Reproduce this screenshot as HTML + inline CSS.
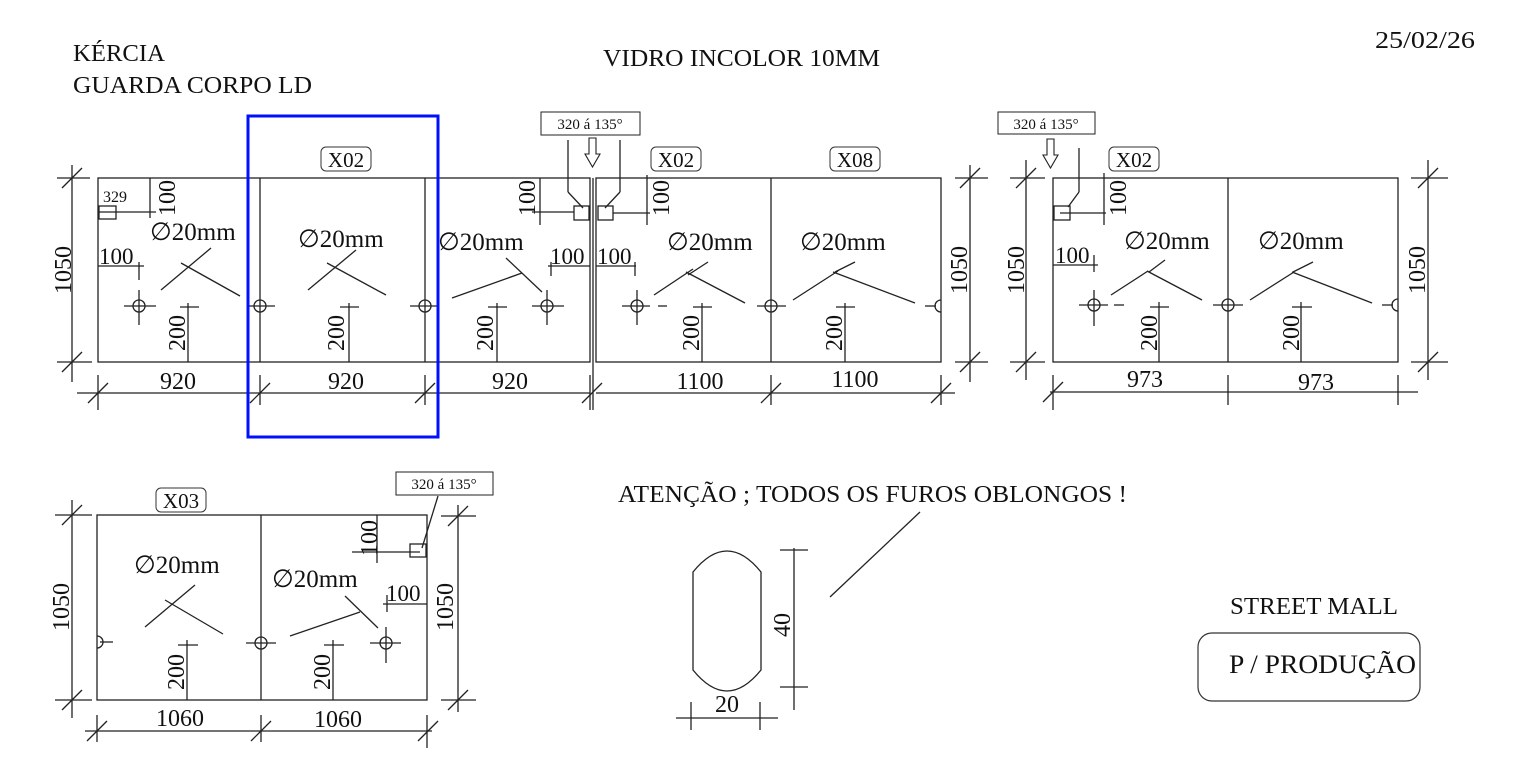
<!DOCTYPE html>
<html><head><meta charset="utf-8"><style>
html,body{margin:0;padding:0;background:#fff;}
svg{display:block;}
text{font-family:"Liberation Serif",serif;fill:#111;}
</style></head><body>
<svg width="1535" height="767" viewBox="0 0 1535 767" xmlns="http://www.w3.org/2000/svg">
<g font-size="24">
<text x="73" y="61" textLength="92" lengthAdjust="spacingAndGlyphs">KÉRCIA</text>
<text x="73" y="93" textLength="239" lengthAdjust="spacingAndGlyphs">GUARDA CORPO LD</text>
<text x="603" y="66" textLength="277" lengthAdjust="spacingAndGlyphs">VIDRO INCOLOR 10MM</text>
<text x="1375" y="48" textLength="100" lengthAdjust="spacingAndGlyphs">25/02/26</text>
<text x="618" y="502" textLength="509" lengthAdjust="spacingAndGlyphs">ATENÇÃO ; TODOS OS FUROS OBLONGOS !</text>
<text x="1230" y="614" textLength="168" lengthAdjust="spacingAndGlyphs">STREET MALL</text>
<text x="1229" y="673" font-size="26" textLength="187" lengthAdjust="spacingAndGlyphs">P / PRODUÇÃO</text>
</g>
<rect x="1198" y="633" width="222" height="68" rx="14" fill="none" stroke="#333" stroke-width="1.2"/>

<g stroke="#222" stroke-width="1.3" fill="none">
<rect x="98" y="178" width="492" height="184"/>
<line x1="260" y1="178" x2="260" y2="362"/><line x1="425" y1="178" x2="425" y2="362"/>
<rect x="596" y="178" width="345" height="184"/>
<line x1="771" y1="178" x2="771" y2="362"/>
<line x1="593" y1="178" x2="593" y2="410"/>
<line x1="72" y1="165" x2="72" y2="382"/>
<line x1="57" y1="178" x2="90" y2="178"/><line x1="57" y1="362" x2="92" y2="362"/>
<line x1="62" y1="188" x2="82" y2="168"/><line x1="62" y1="372" x2="82" y2="352"/>
<line x1="77" y1="393" x2="590" y2="393"/>
<line x1="98" y1="375" x2="98" y2="410"/><line x1="260" y1="375" x2="260" y2="405"/><line x1="425" y1="375" x2="425" y2="405"/>
<line x1="88" y1="403" x2="108" y2="383"/><line x1="250" y1="403" x2="270" y2="383"/><line x1="415" y1="403" x2="435" y2="383"/><line x1="582" y1="403" x2="602" y2="383"/>
<line x1="590" y1="375" x2="590" y2="410"/>
<line x1="596" y1="393" x2="955" y2="393"/>
<line x1="771" y1="375" x2="771" y2="405"/><line x1="941" y1="375" x2="941" y2="405"/>
<line x1="761" y1="403" x2="781" y2="383"/><line x1="931" y1="403" x2="951" y2="383"/>
<line x1="970" y1="165" x2="970" y2="382"/>
<line x1="955" y1="178" x2="988" y2="178"/><line x1="955" y1="362" x2="988" y2="362"/>
<line x1="960" y1="188" x2="980" y2="168"/><line x1="960" y1="372" x2="980" y2="352"/>
<rect x="99" y="206" width="17" height="13"/>
<line x1="99" y1="212" x2="156" y2="212"/><line x1="150" y1="178" x2="150" y2="218"/>
<line x1="98" y1="266" x2="144" y2="266"/>
<line x1="139" y1="262" x2="139" y2="280"/>
<circle cx="139" cy="306" r="6"/><line x1="124" y1="306" x2="156" y2="306"/><line x1="139" y1="290" x2="139" y2="325"/>
<circle cx="260" cy="306" r="6"/><line x1="248" y1="306" x2="275" y2="306"/>
<circle cx="425" cy="306" r="6"/><line x1="410" y1="306" x2="438" y2="306"/>
<circle cx="547" cy="306" r="6"/><line x1="532" y1="306" x2="564" y2="306"/><line x1="547" y1="290" x2="547" y2="325"/>
<line x1="188" y1="303" x2="188" y2="362"/><line x1="180" y1="307" x2="199" y2="307"/>
<line x1="349" y1="303" x2="349" y2="362"/><line x1="340" y1="307" x2="359" y2="307"/>
<line x1="497" y1="303" x2="497" y2="362"/><line x1="488" y1="307" x2="507" y2="307"/>
<line x1="161" y1="290" x2="211" y2="248"/><line x1="181" y1="263" x2="240" y2="296"/>
<line x1="308" y1="290" x2="356" y2="250"/><line x1="327" y1="263" x2="386" y2="295"/>
<line x1="452" y1="298" x2="522" y2="273"/><line x1="506" y1="258" x2="542" y2="292"/>
<line x1="532" y1="212" x2="574" y2="212"/><line x1="540" y1="178" x2="540" y2="225"/>
<line x1="548" y1="266" x2="590" y2="266"/><line x1="551" y1="262" x2="551" y2="276"/>
<rect x="574" y="206" width="15" height="14"/>
<line x1="568" y1="140" x2="568" y2="192"/><line x1="568" y1="192" x2="583" y2="208"/>
<rect x="598" y="206" width="15" height="14"/>
<line x1="620" y1="140" x2="620" y2="192"/><line x1="620" y1="192" x2="605" y2="208"/>
<line x1="613" y1="213" x2="650" y2="213"/><line x1="647" y1="175" x2="647" y2="225"/>
<line x1="596" y1="266" x2="636" y2="266"/><line x1="635" y1="262" x2="635" y2="276"/>
<rect x="541" y="112" width="99" height="23" stroke-width="1"/>
<path d="M589 138h7v16h4l-7.5 13l-7.5-13h4z" stroke-width="1.1"/>
<circle cx="637" cy="306" r="6"/><line x1="622" y1="306" x2="650" y2="306"/><line x1="637" y1="290" x2="637" y2="325"/><line x1="658" y1="306" x2="667" y2="306"/>
<circle cx="771" cy="306" r="6"/><line x1="757" y1="306" x2="786" y2="306"/>
<path d="M941 300a6 6 0 0 0 0 12"/><line x1="925" y1="306" x2="936" y2="306"/>
<line x1="702" y1="303" x2="702" y2="362"/><line x1="693" y1="307" x2="712" y2="307"/>
<line x1="845" y1="303" x2="845" y2="362"/><line x1="836" y1="307" x2="855" y2="307"/>
<line x1="654" y1="295" x2="693" y2="269"/><line x1="686" y1="272" x2="745" y2="303"/><line x1="688" y1="275" x2="708" y2="262"/>
<line x1="793" y1="300" x2="838" y2="271"/><line x1="833" y1="272" x2="915" y2="303"/><line x1="835" y1="272" x2="855" y2="262"/>

<rect x="1053" y="178" width="345" height="184"/>
<line x1="1228" y1="178" x2="1228" y2="362"/>
<line x1="1026" y1="160" x2="1026" y2="380"/>
<line x1="1010" y1="178" x2="1045" y2="178"/><line x1="1010" y1="362" x2="1045" y2="362"/>
<line x1="1016" y1="188" x2="1036" y2="168"/><line x1="1016" y1="372" x2="1036" y2="352"/>
<line x1="1428" y1="160" x2="1428" y2="380"/>
<line x1="1411" y1="178" x2="1448" y2="178"/><line x1="1411" y1="362" x2="1448" y2="362"/>
<line x1="1418" y1="188" x2="1438" y2="168"/><line x1="1418" y1="372" x2="1438" y2="352"/>
<line x1="1050" y1="392" x2="1418" y2="392"/>
<line x1="1053" y1="375" x2="1053" y2="410"/><line x1="1228" y1="375" x2="1228" y2="405"/><line x1="1398" y1="375" x2="1398" y2="405"/>
<line x1="1043" y1="402" x2="1063" y2="382"/>
<rect x="998" y="112" width="97" height="22" stroke-width="1"/>
<path d="M1047 139h7v16h4l-7.5 13l-7.5-13h4z" stroke-width="1.1"/>
<rect x="1054" y="206" width="16" height="14"/>
<line x1="1079" y1="148" x2="1079" y2="192"/><line x1="1079" y1="192" x2="1068" y2="207"/>
<line x1="1060" y1="213" x2="1106" y2="213"/><line x1="1104" y1="173" x2="1104" y2="225"/>
<line x1="1053" y1="265" x2="1098" y2="265"/><line x1="1094" y1="255" x2="1094" y2="272"/>
<circle cx="1094" cy="305" r="6"/><line x1="1079" y1="305" x2="1108" y2="305"/><line x1="1094" y1="290" x2="1094" y2="326"/><line x1="1114" y1="305" x2="1124" y2="305"/>
<circle cx="1228" cy="305" r="6"/><line x1="1213" y1="305" x2="1243" y2="305"/>
<path d="M1398 299a6 6 0 0 0 0 12"/><line x1="1382" y1="305" x2="1393" y2="305"/>
<line x1="1159" y1="302" x2="1159" y2="362"/><line x1="1150" y1="307" x2="1169" y2="307"/>
<line x1="1301" y1="302" x2="1301" y2="362"/><line x1="1292" y1="307" x2="1312" y2="307"/>
<line x1="1111" y1="295" x2="1148" y2="271"/><line x1="1147" y1="271" x2="1202" y2="300"/><line x1="1149" y1="272" x2="1165" y2="260"/>
<line x1="1250" y1="300" x2="1294" y2="272"/><line x1="1292" y1="272" x2="1372" y2="303"/><line x1="1293" y1="272" x2="1313" y2="262"/>

<rect x="97" y="515" width="330" height="185"/>
<line x1="261" y1="515" x2="261" y2="700"/>
<line x1="72" y1="500" x2="72" y2="718"/>
<line x1="55" y1="515" x2="92" y2="515"/><line x1="55" y1="700" x2="92" y2="700"/>
<line x1="62" y1="525" x2="82" y2="505"/><line x1="62" y1="710" x2="82" y2="690"/>
<line x1="458" y1="505" x2="458" y2="712"/>
<line x1="441" y1="516" x2="476" y2="516"/><line x1="441" y1="700" x2="476" y2="700"/>
<line x1="448" y1="526" x2="468" y2="506"/><line x1="448" y1="710" x2="468" y2="690"/>
<line x1="85" y1="731" x2="432" y2="731"/>
<line x1="97" y1="715" x2="97" y2="742"/><line x1="261" y1="715" x2="261" y2="742"/><line x1="427" y1="715" x2="427" y2="748"/>
<line x1="87" y1="741" x2="107" y2="721"/><line x1="251" y1="741" x2="271" y2="721"/><line x1="418" y1="741" x2="438" y2="721"/>
<rect x="396" y="472" width="97" height="23" stroke-width="1"/>
<line x1="438" y1="496" x2="422" y2="548"/>
<rect x="410" y="544" width="16" height="13"/>
<line x1="352" y1="552" x2="420" y2="552"/><line x1="377" y1="515" x2="377" y2="563"/>
<line x1="383" y1="604" x2="427" y2="604"/><line x1="387" y1="595" x2="387" y2="612"/>
<path d="M97 636a6 6 0 0 1 0 12"/><line x1="100" y1="642" x2="113" y2="642"/>
<circle cx="261" cy="643" r="6"/><line x1="246" y1="643" x2="276" y2="643"/>
<circle cx="386" cy="643" r="6"/><line x1="370" y1="643" x2="401" y2="643"/><line x1="386" y1="627" x2="386" y2="663"/>
<line x1="187" y1="640" x2="187" y2="700"/><line x1="178" y1="645" x2="198" y2="645"/>
<line x1="333" y1="640" x2="333" y2="700"/><line x1="324" y1="645" x2="344" y2="645"/>
<line x1="145" y1="627" x2="195" y2="585"/><line x1="165" y1="600" x2="223" y2="634"/>
<line x1="290" y1="636" x2="360" y2="612"/><line x1="345" y1="596" x2="378" y2="628"/>

<path d="M693 572 Q727 530 761 572 L761 670 Q727 712 693 670 Z"/>
<line x1="794" y1="548" x2="794" y2="710"/>
<line x1="780" y1="550" x2="808" y2="550"/><line x1="780" y1="687" x2="808" y2="687"/>
<line x1="676" y1="718" x2="778" y2="718"/>
<line x1="691" y1="702" x2="691" y2="730"/><line x1="760" y1="702" x2="760" y2="730"/>
<line x1="830" y1="597" x2="920" y2="512"/>
</g>

<g stroke="#333" stroke-width="1" fill="none">
<rect x="321" y="147" width="50" height="24" rx="5"/>
<rect x="651" y="147" width="50" height="24" rx="5"/>
<rect x="830" y="147" width="50" height="24" rx="5"/>
<rect x="1109" y="147" width="50" height="24" rx="5"/>
<rect x="156" y="488" width="50" height="24" rx="5"/>
</g>
<g font-size="21" text-anchor="middle">
<text x="346" y="167">X02</text><text x="676" y="167">X02</text><text x="855" y="167">X08</text>
<text x="1134" y="167">X02</text><text x="181" y="508">X03</text>
</g>
<g font-size="15" text-anchor="middle">
<text x="590" y="129">320 á 135°</text><text x="1046" y="129">320 á 135°</text><text x="444" y="489">320 á 135°</text>
</g>
<text x="103" y="202" font-size="16">329</text>
<g font-size="24" text-anchor="middle">
<text x="178" y="389">920</text><text x="346" y="389">920</text><text x="510" y="389">920</text>
<text x="700" y="389">1100</text><text x="855" y="387">1100</text>
<text x="1145" y="387">973</text><text x="1316" y="390">973</text>
<text x="180" y="726">1060</text><text x="338" y="727">1060</text>
<text x="727" y="712">20</text>
</g>
<g font-size="23">
<text x="99" y="264">100</text><text x="550" y="264">100</text><text x="597" y="264">100</text>
<text x="1055" y="263">100</text><text x="386" y="601">100</text>
</g>
<g font-size="25">
<text x="150" y="240">∅20mm</text><text x="298" y="247">∅20mm</text><text x="438" y="250">∅20mm</text>
<text x="667" y="250">∅20mm</text><text x="800" y="250">∅20mm</text>
<text x="1124" y="249">∅20mm</text><text x="1258" y="249">∅20mm</text>
<text x="134" y="573">∅20mm</text><text x="272" y="587">∅20mm</text>
</g>
<g font-size="24" text-anchor="middle">
<text transform="translate(71,270) rotate(-90)">1050</text>
<text transform="translate(967,270) rotate(-90)">1050</text>
<text transform="translate(1024,270) rotate(-90)">1050</text>
<text transform="translate(1425,270) rotate(-90)">1050</text>
<text transform="translate(69,607) rotate(-90)">1050</text>
<text transform="translate(453,607) rotate(-90)">1050</text>
<text transform="translate(185,333) rotate(-90)">200</text>
<text transform="translate(344,333) rotate(-90)">200</text>
<text transform="translate(493,333) rotate(-90)">200</text>
<text transform="translate(699,333) rotate(-90)">200</text>
<text transform="translate(842,333) rotate(-90)">200</text>
<text transform="translate(1157,333) rotate(-90)">200</text>
<text transform="translate(1299,333) rotate(-90)">200</text>
<text transform="translate(184,672) rotate(-90)">200</text>
<text transform="translate(330,672) rotate(-90)">200</text>
<text transform="translate(175,198) rotate(-90)">100</text>
<text transform="translate(535,198) rotate(-90)">100</text>
<text transform="translate(669,198) rotate(-90)">100</text>
<text transform="translate(1126,198) rotate(-90)">100</text>
<text transform="translate(377,538) rotate(-90)">100</text>
<text transform="translate(790,625) rotate(-90)">40</text>
</g>
<rect x="248" y="116" width="190" height="321" fill="none" stroke="#0010ff" stroke-width="3"/>
</svg>
</body></html>
